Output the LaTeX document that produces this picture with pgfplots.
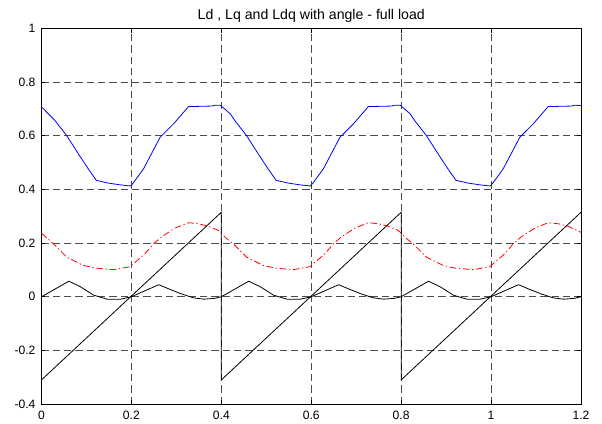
\documentclass[border=0pt]{standalone}
\usepackage{pgfplots}
\pgfplotsset{compat=1.18}
\usepackage{fontspec}
\setmainfont{Liberation Sans}
\begin{document}
\begin{tikzpicture}
\begin{axis}[
  scale only axis,
  width=404.6pt, height=281.6pt,
  xmin=0, xmax=1.2, ymin=-0.4, ymax=1,
  xtick={0,0.2,0.4,0.6,0.8,1,1.2},
  xticklabels={0,0.2,0.4,0.6,0.8,1,1.2},
  ytick={-0.4,-0.2,0,0.2,0.4,0.6,0.8,1},
  yticklabels={-0.4,-0.2,0,0.2,0.4,0.6,0.8,1},
  tick label style={font=\fontsize{9.1}{10}\selectfont},
  xticklabel style={yshift=-1.5pt},
  yticklabel style={xshift=-1pt},
  tick align=inside,
  major tick length=3pt,
  tick style={black, line width=0.5pt},
  axis line style={black, line width=0.6pt},
  grid=major,
  major grid style={black!70, line width=0.5pt, dash pattern=on 5.5pt off 3pt},
  title={Ld , Lq and Ldq with angle - full load},
  title style={at={(0.5,1)}, anchor=base, yshift=1pt, inner sep=0pt, font=\fontsize{10.6}{12}\selectfont},
  every axis plot/.append style={line width=0.6pt},
]
% Ld (blue)
\addplot[blue] coordinates {
(0,0.708) (0.03,0.657) (0.056,0.601) (0.082,0.533) (0.104,0.477) (0.122,0.434) (0.148,0.424) (0.176,0.417) (0.198,0.413) (0.204,0.424) (0.227,0.477) (0.264,0.595) (0.294,0.645) (0.327,0.709) (0.379,0.711) (0.385,0.714) (0.398,0.714)
(0.42,0.682) (0.43,0.657) (0.456,0.601) (0.482,0.533) (0.504,0.477) (0.522,0.434) (0.548,0.424) (0.576,0.417) (0.598,0.413) (0.604,0.424) (0.627,0.477) (0.664,0.595) (0.694,0.645) (0.727,0.709) (0.779,0.711) (0.785,0.714) (0.798,0.714)
(0.82,0.682) (0.83,0.657) (0.856,0.601) (0.882,0.533) (0.904,0.477) (0.922,0.434) (0.948,0.424) (0.976,0.417) (0.998,0.413) (1.004,0.424) (1.027,0.477) (1.064,0.595) (1.094,0.645) (1.127,0.709) (1.179,0.711) (1.185,0.714) (1.2,0.713)
};
% Lq (red dash-dot)
\addplot[red, dash pattern=on 5pt off 2pt on 1pt off 2pt] coordinates {
(0,0.237) (0.03,0.192) (0.056,0.148) (0.093,0.117) (0.119,0.107) (0.16,0.101) (0.197,0.112) (0.23,0.16) (0.249,0.197) (0.267,0.223) (0.297,0.256) (0.327,0.276) (0.35,0.272) (0.371,0.263) (0.393,0.248)
(0.412,0.217) (0.43,0.192) (0.456,0.148) (0.493,0.117) (0.519,0.107) (0.56,0.101) (0.597,0.112) (0.63,0.16) (0.649,0.197) (0.667,0.223) (0.697,0.256) (0.727,0.276) (0.75,0.272) (0.771,0.263) (0.793,0.248)
(0.812,0.217) (0.83,0.192) (0.856,0.148) (0.893,0.117) (0.919,0.107) (0.96,0.101) (0.997,0.112) (1.03,0.16) (1.049,0.197) (1.067,0.223) (1.097,0.256) (1.127,0.276) (1.15,0.272) (1.171,0.263) (1.2,0.240)
};
% Ldq (black)
\addplot[black] coordinates {
(0,0) (0.061,0.058) (0.087,0.037) (0.116,0.006) (0.146,-0.009) (0.176,-0.009) (0.2,0) (0.261,0.045) (0.285,0.028) (0.309,0.012) (0.338,-0.004) (0.361,-0.009) (0.385,-0.006)
(0.4,0) (0.461,0.058) (0.487,0.037) (0.516,0.006) (0.546,-0.009) (0.576,-0.009) (0.6,0) (0.661,0.045) (0.685,0.028) (0.709,0.012) (0.738,-0.004) (0.761,-0.009) (0.785,-0.006)
(0.8,0) (0.861,0.058) (0.887,0.037) (0.916,0.006) (0.946,-0.009) (0.976,-0.009) (1.0,0) (1.061,0.045) (1.085,0.028) (1.109,0.012) (1.138,-0.004) (1.161,-0.009) (1.185,-0.006) (1.2,0)
};
% angle sawtooth (black)
\addplot[black] coordinates {
(0,-0.31) (0.4,0.315) (0.4,-0.31) (0.8,0.315) (0.8,-0.31) (1.2,0.315)
};
\end{axis}
\path ([xshift=-31.1pt,yshift=-14.25pt]current axis.south west) rectangle ([xshift=15.75pt,yshift=21.4pt]current axis.north east);
\end{tikzpicture}
\end{document}
